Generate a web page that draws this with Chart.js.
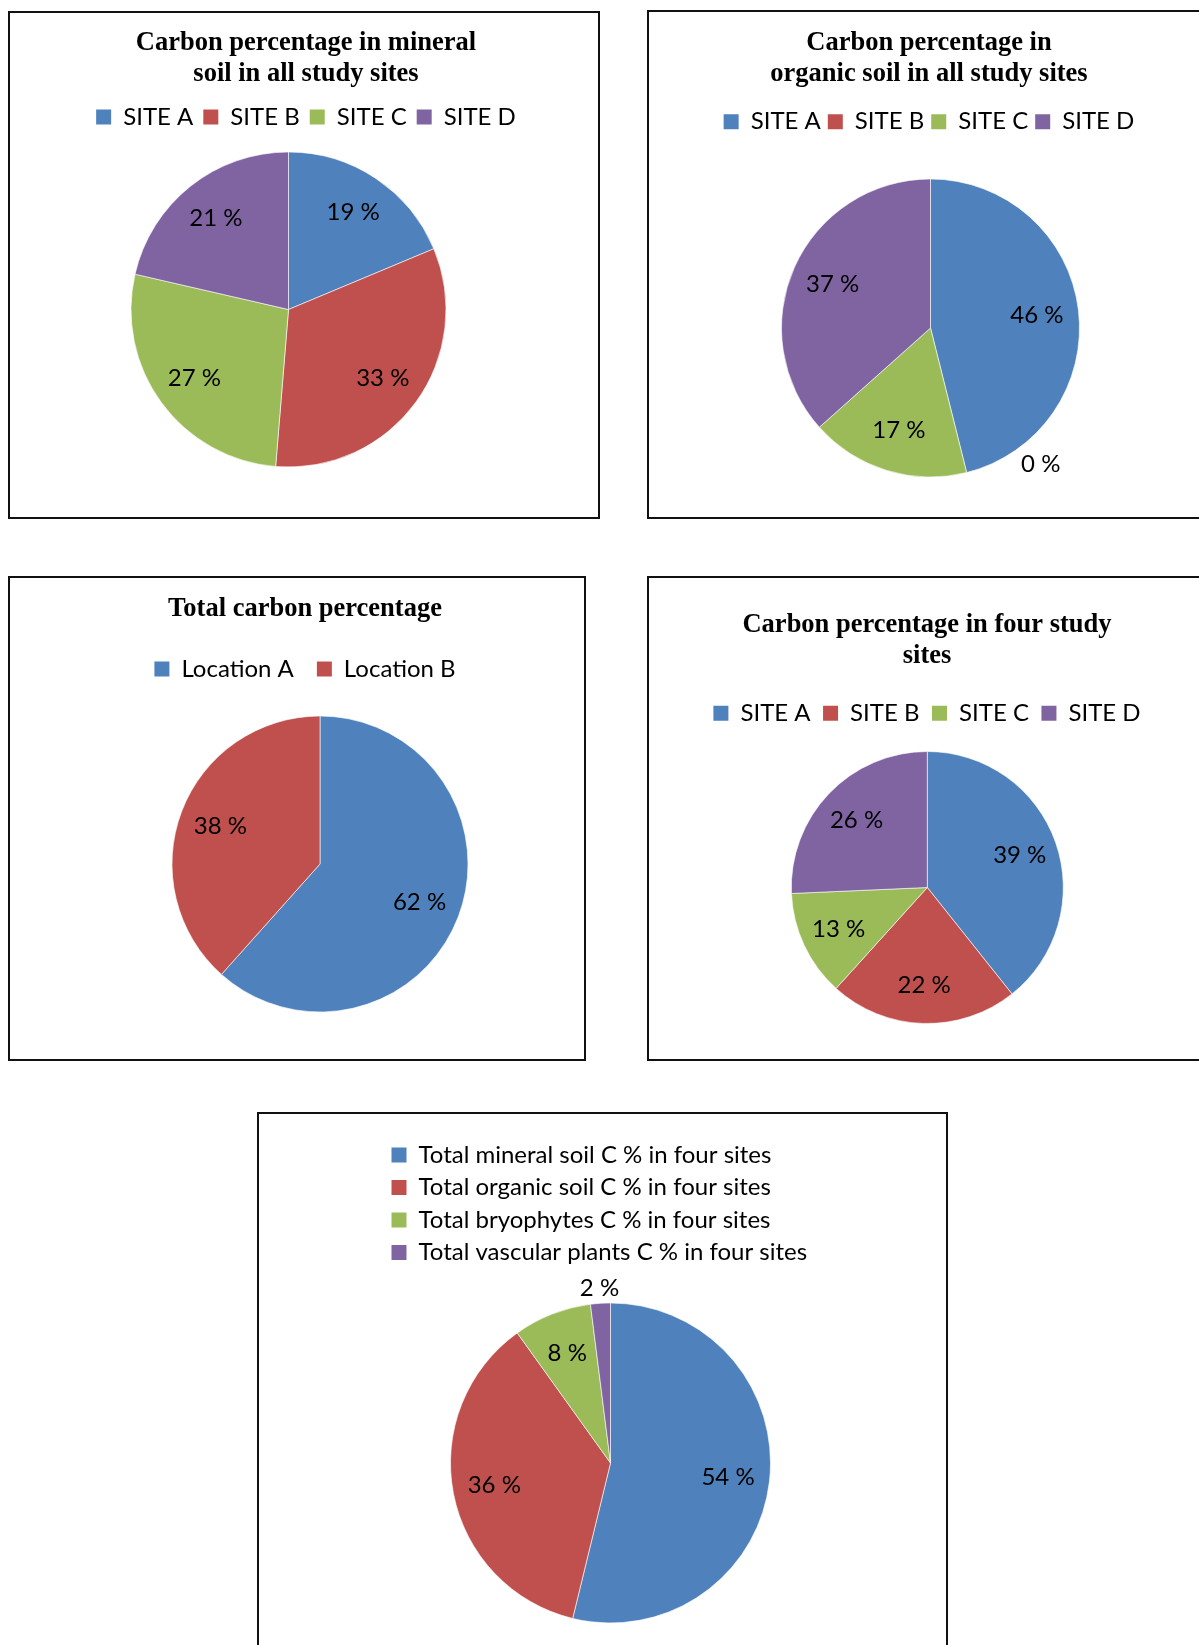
<!DOCTYPE html>
<html>
<head>
<meta charset="utf-8">
<script src="https://cdn.jsdelivr.net/npm/chart.js@4.4.1/dist/chart.umd.min.js"></script>
<style>
  body { margin: 0; background: #fff; width: 1199px; height: 1645px; overflow: hidden; position: relative; }
  .box { position: absolute; border: 2px solid #111; box-sizing: border-box; }
  .wrap { position: absolute; }
</style>
</head>
<body>
<div class="box" style="left:8px;top:11px;width:592px;height:508px"></div>
<div class="box" style="left:647px;top:10px;width:600px;height:509px"></div>
<div class="box" style="left:8px;top:576px;width:578px;height:485px"></div>
<div class="box" style="left:647px;top:576px;width:600px;height:485px"></div>
<div class="box" style="left:257px;top:1112px;width:691px;height:560px"></div>

<div class="wrap" style="left:10px;top:13px;width:592px;height:504px"><canvas id="mineral"></canvas></div>
<div class="wrap" style="left:649px;top:12px;width:560px;height:505px"><canvas id="organic"></canvas></div>
<div class="wrap" style="left:10px;top:578px;width:590px;height:481px"><canvas id="total"></canvas></div>
<div class="wrap" style="left:649px;top:578px;width:556px;height:481px"><canvas id="sites"></canvas></div>
<div class="wrap" style="left:259px;top:1114px;width:1200px;height:531px"><canvas id="pools"></canvas></div>

<script>
// Data (percent shares, labels shown rounded)
const siteLabels = ['SITE A', 'SITE B', 'SITE C', 'SITE D'];
const mineralSoil = [18.7, 32.6, 27.3, 21.4];
const organicSoil = [46.1, 0, 17.3, 36.6];
const locationLabels = ['Location A', 'Location B'];
const totalCarbon = [61.6, 38.4];
const fourSites = [39.3, 22.4, 12.6, 25.7];
const poolLabels = [
    'Total mineral soil C % in four sites',
    'Total organic soil C % in four sites',
    'Total bryophytes C % in four sites',
    'Total vascular plants C % in four sites'
];
const carbonPools = [53.8, 36.3, 7.9, 2.0];
const sliceColors = ['#4F81BD', '#C0504D', '#9BBB59', '#8064A2'];

Chart.defaults.font.family = 'Lato';
Chart.defaults.color = '#000';

// Put the pie where the original sits (plot area set after the title/legend layout)
const plotArea = {
    id: 'plotArea',
    afterLayout(chart, args, opts) {
        const r = opts.r;
        chart.chartArea = {
            left: opts.cx - r, top: opts.cy - r,
            right: opts.cx + r, bottom: opts.cy + r,
            width: 2 * r, height: 2 * r
        };
    }
};

// Percent labels inside the slices, small ones outside
const pctLabels = {
    id: 'pctLabels',
    afterDatasetsDraw(chart, args, opts) {
        const ctx = chart.ctx;
        const values = chart.data.datasets[0].data;
        ctx.save();
        ctx.font = '24px Lato';
        ctx.fillStyle = '#000';
        ctx.textAlign = 'center';
        ctx.textBaseline = 'middle';
        chart.getDatasetMeta(0).data.forEach((arc, i) => {
            const p = arc.getProps(['x', 'y', 'startAngle', 'endAngle', 'outerRadius'], true);
            let angle = (p.startAngle + p.endAngle) / 2;
            let dist = p.outerRadius * opts.ratio;
            if (values[i] < 3) {
                angle += (opts.shift || 0) * Math.PI / 180;
                dist = p.outerRadius + opts.gap;
            }
            ctx.fillText(Math.round(values[i]) + ' %',
                p.x + Math.cos(angle) * dist,
                p.y + Math.sin(angle) * dist);
        });
        ctx.restore();
    }
};

function legendItems(chart) {
    return Chart.overrides.doughnut.plugins.legend.labels.generateLabels(chart)
        .map(item => ({ ...item, lineWidth: 0 }));
}

function makePie(id, labels, values, setup) {
    const ctx = document.getElementById(id).getContext('2d');
    return new Chart(ctx, {
        type: 'pie',
        data: {
            labels: labels,
            datasets: [{
                data: values,
                backgroundColor: sliceColors.slice(0, values.length),
                borderColor: 'rgba(255, 255, 255, 0.6)',
                borderWidth: c => (c.raw === 0 ? 0 : 1),
                hoverOffset: 0
            }]
        },
        options: {
            responsive: true,
            maintainAspectRatio: false,
            animation: false,
            layout: { padding: setup.padding || 0 },
            plugins: {
                title: {
                    display: !!setup.title,
                    text: setup.title || '',
                    color: '#000',
                    font: { family: 'Liberation Serif', weight: 'bold', size: 26.5, lineHeight: 31 / 26.5 },
                    padding: setup.titlePadding || 0
                },
                legend: {
                    position: setup.legendPosition || 'top',
                    align: setup.legendAlign || 'center',
                    labels: {
                        boxWidth: 15,
                        boxHeight: 15,
                        padding: setup.legendPadding,
                        font: { size: 24 },
                        color: '#000',
                        generateLabels: legendItems
                    }
                },
                tooltip: { enabled: false },
                plotArea: setup.pie,
                pctLabels: setup.pct
            }
        },
        plugins: [plotArea, pctLabels]
    });
}

makePie('mineral', siteLabels, mineralSoil, {
    title: ['Carbon percentage in mineral', 'soil in all study sites'],
    titlePadding: { top: 14.5, bottom: 5.5 },
    legendPadding: 10,
    pie: { cx: 278.5, cy: 296.5, r: 158 },
    pct: { ratio: 0.74 }
});

makePie('organic', siteLabels, organicSoil, {
    title: ['Carbon percentage in', 'organic soil in all study sites'],
    titlePadding: { top: 15.5, bottom: 13.2 },
    legendPadding: 7,
    pie: { cx: 281.5, cy: 316, r: 149.5 },
    pct: { ratio: 0.72, gap: 26, shift: -25 }
});

makePie('total', locationLabels, totalCarbon, {
    title: ['Total carbon percentage'],
    titlePadding: { top: 16, bottom: 9 },
    legendPadding: 23,
    pie: { cx: 310, cy: 286, r: 148.5 },
    pct: { ratio: 0.72 }
});

makePie('sites', siteLabels, fourSites, {
    title: ['Carbon percentage in four study', 'sites'],
    titlePadding: { top: 31.5, bottom: 17.3 },
    legendPadding: 12.5,
    pie: { cx: 278.3, cy: 309.5, r: 136.5 },
    pct: { ratio: 0.72 }
});

makePie('pools', poolLabels, carbonPools, {
    padding: { left: 124, top: 20.5 },
    legendPosition: 'left',
    legendAlign: 'start',
    legendPadding: 8.5,
    pie: { cx: 351.5, cy: 349, r: 160.5 },
    pct: { ratio: 0.74, gap: 15, shift: 0 }
});
</script>
</body>
</html>
